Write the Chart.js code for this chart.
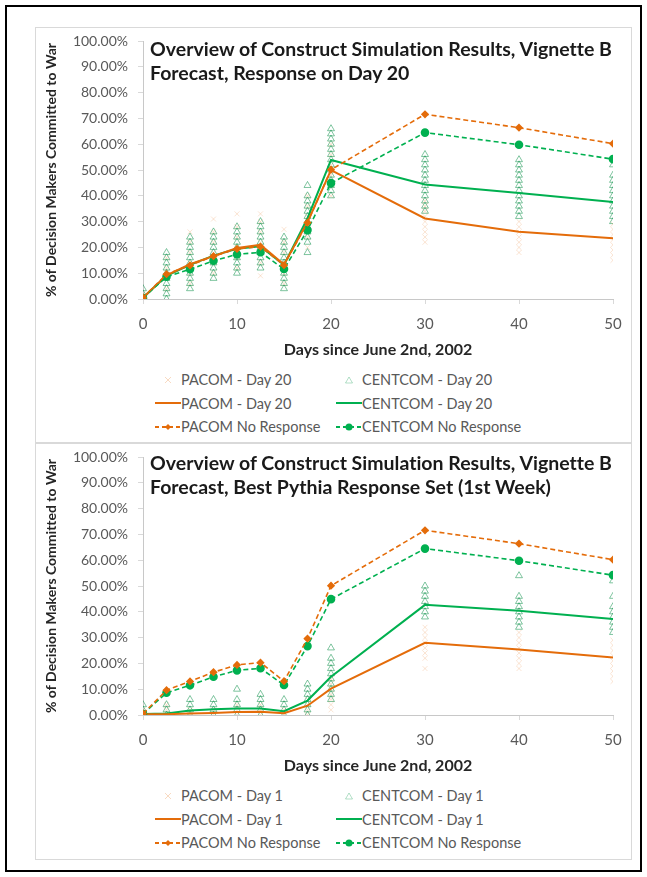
<!DOCTYPE html>
<html>
<head>
<meta charset="utf-8">
<title>Construct Simulation Results, Vignette B</title>
<script src="https://cdn.jsdelivr.net/npm/chart.js@4.4.1/dist/chart.umd.min.js"></script>
<style>
  body { margin: 0; background: #fff; font-family: Lato, 'Open Sans', sans-serif; font-variant-ligatures: none; }
  #frame { position: absolute; left: 5px; top: 5px; width: 637px; height: 867px; border: 2px solid #000; box-sizing: border-box; }
  .panel { position: absolute; left: 35px; width: 597px; border: 1px solid #d9d9d9; box-sizing: border-box; background: #fff; }
  .panel canvas { position: absolute; left: 0; top: 0; }
  .title { position: absolute; left: 114px; font-weight: bold; font-size: 19.5px; line-height: 24px; color: #1a1a1a; white-space: nowrap; }
  .legend { position: absolute; left: 119px; top: 340px; display: grid; grid-template-columns: 181px auto; grid-auto-rows: 23.5px; font-size: 14.5px; color: #595959; }
  .legend .item { display: flex; align-items: center; white-space: nowrap; }
  .legend svg { width: 26px; height: 12px; flex: none; }
</style>
</head>
<body>
<div id="frame"></div>

<div class="panel" style="top:27px; height:416px;">
  <canvas id="chart-day20" width="595" height="335"></canvas>
  <div class="title" style="top:9px;">Overview of Construct Simulation Results, Vignette B<br>Forecast, Response on Day 20</div>
  <div class="legend" id="legend-day20"></div>
</div>

<div class="panel" style="top:443px; height:417px;">
  <canvas id="chart-day1" width="595" height="335"></canvas>
  <div class="title" style="top:7px;">Overview of Construct Simulation Results, Vignette B<br>Forecast, Best Pythia Response Set (1st Week)</div>
  <div class="legend" id="legend-day1"></div>
</div>

<script>
// Days on the x axis (same for every series)
const days = [0, 2.5, 5, 7.5, 10, 12.5, 15, 17.5, 20, 30, 40, 50];
const xTicks = [0, 10, 20, 30, 40, 50];

// Baseline, no response (same in both panels), % committed to war
const pacomNoResponse   = [0.5, 9.6, 13.0, 16.6, 19.4, 20.3, 13.1, 29.6, 50.1, 71.6, 66.4, 60.2];
const centcomNoResponse = [0.4, 8.6, 11.5, 14.8, 17.3, 18.1, 11.6, 26.7, 44.9, 64.5, 59.8, 54.2];

// Panel 1: response on day 20, averages
const pacomDay20   = [0.5, 9.2, 13.5, 16.6, 19.8, 21.0, 13.4, 29.8, 50.0, 31.2, 26.1, 23.5];
const centcomDay20 = [0.5, 9.0, 13.2, 16.8, 19.5, 20.4, 13.2, 31.3, 53.9, 44.4, 41.1, 37.6];

// Panel 1: individual runs per day
const pacomDay20Runs = [
  [0, 2], [4, 8, 12, 16], [6, 10, 14, 18, 22, 26], [10, 14, 18, 22, 26, 31],
  [12, 16, 20, 24, 28, 33], [9, 14, 18, 22, 26, 30, 33], [6, 10, 14, 18, 22, 27], [20, 24, 28, 32, 36, 40],
  [40, 44, 48, 52, 56, 60], [22, 24, 26, 28, 30, 32, 34, 36, 38], [18, 20, 22, 24, 26, 28, 30], [15, 17, 19, 21, 23, 25, 27, 29]
];
const centcomDay20Runs = [
  [0, 2, 4], [0, 2, 4, 6, 8, 10, 12, 14, 16, 18], [4, 6, 8, 10, 12, 14, 16, 18, 20, 22, 24], [8, 10, 12, 14, 16, 18, 20, 22, 24, 26],
  [10, 12, 14, 16, 18, 20, 22, 24, 26, 28], [12, 14, 16, 18, 20, 22, 24, 26, 28, 30], [4, 6, 8, 10, 12, 14, 16, 18, 20, 22, 24], [18, 22, 24, 26, 28, 30, 32, 34, 36, 38, 40, 44],
  [40, 42, 44, 46, 48, 50, 52, 54, 56, 58, 60, 62, 64, 66], [34, 36, 38, 40, 42, 44, 46, 48, 50, 52, 54, 56], [32, 34, 36, 38, 40, 42, 44, 46, 48, 50, 52, 54], [30, 32, 34, 36, 38, 40, 42, 44, 46, 48, 52]
];

// Panel 2: best Pythia response set (1st week), averages
const pacomDay1   = [0.3, 0.3, 0.6, 0.8, 1.2, 1.3, 0.7, 3.6, 10.2, 28.0, 25.4, 22.3];
const centcomDay1 = [0.4, 0.6, 1.7, 2.2, 2.5, 2.5, 1.5, 5.6, 14.8, 42.7, 40.4, 37.2];

// Panel 2: individual runs per day
const pacomDay1Runs = [
  [0, 2], [0, 2, 4], [0, 2], [0, 2], [0, 2, 4], [0, 2, 4], [0, 2], [0, 2, 4, 6],
  [2, 4, 6, 8, 10, 12, 14], [18, 22, 24, 26, 28, 30, 32, 34], [18, 20, 22, 24, 26, 28, 30, 32], [13, 15, 17, 19, 21, 23, 25, 27, 29]
];
const centcomDay1Runs = [
  [0, 2, 4], [0, 2, 4], [0, 2, 4, 6], [0, 2, 4, 6], [0, 2, 4, 6, 10], [0, 2, 4, 6, 8], [0, 2, 4, 6], [0, 2, 4, 6, 8, 10, 12],
  [6, 8, 10, 12, 14, 16, 18, 20, 22, 26], [38, 40, 42, 44, 46, 48, 50], [34, 36, 38, 40, 42, 44, 46, 54], [32, 34, 36, 38, 40, 42, 46, 52]
];

const ORANGE = '#E46C0A';
const GREEN = '#00B050';

Chart.defaults.font.family = "Lato, 'Open Sans', sans-serif";

function linePoints(values) {
  return days.map((d, i) => ({ x: d, y: values[i] }));
}

function runPoints(runs) {
  const pts = [];
  runs.forEach((vals, i) => vals.forEach(v => pts.push({ x: days[i], y: v })));
  return pts;
}

function buildDatasets(tag, pacomRuns, centcomRuns, pacomAvg, centcomAvg) {
  return [
    { label: 'PACOM - ' + tag, data: runPoints(pacomRuns), showLine: false, order: 2,
      pointStyle: 'crossRot', pointRadius: 3.5, borderWidth: 1,
      borderColor: 'rgba(228,108,10,0.18)', backgroundColor: 'rgba(228,108,10,0.18)' },
    { label: 'CENTCOM - ' + tag, data: runPoints(centcomRuns), showLine: false, order: 2,
      pointStyle: 'triangle', pointRadius: 4, borderWidth: 1,
      pointBorderColor: 'rgba(0,140,65,0.5)', pointBackgroundColor: 'rgba(0,0,0,0)' },
    { label: 'PACOM - ' + tag, data: linePoints(pacomAvg), order: 1,
      borderColor: ORANGE, borderWidth: 2, pointRadius: 0, tension: 0 },
    { label: 'CENTCOM - ' + tag, data: linePoints(centcomAvg), order: 1,
      borderColor: GREEN, borderWidth: 2, pointRadius: 0, tension: 0 },
    { label: 'PACOM No Response', data: linePoints(pacomNoResponse), order: 0,
      borderColor: ORANGE, borderWidth: 1.6, borderDash: [5, 3], tension: 0,
      pointStyle: 'rectRot', pointRadius: 3, pointBackgroundColor: ORANGE, pointBorderColor: ORANGE },
    { label: 'CENTCOM No Response', data: linePoints(centcomNoResponse), order: 0,
      borderColor: GREEN, borderWidth: 1.6, borderDash: [5, 3], tension: 0,
      pointStyle: 'circle', pointRadius: 3.5, pointBackgroundColor: GREEN, pointBorderColor: GREEN }
  ];
}

function legendIcon(ds) {
  const c = ds.borderColor;
  if (ds.showLine === false && ds.pointStyle === 'crossRot') {
    return '<svg viewBox="0 0 26 12"><path d="M10 3 L16 9 M16 3 L10 9" stroke="rgba(228,108,10,0.25)" stroke-width="1"/></svg>';
  }
  if (ds.showLine === false) {
    return '<svg viewBox="0 0 26 12"><path d="M13 3 L16.5 9 L9.5 9 Z" fill="none" stroke="rgba(0,150,70,0.3)" stroke-width="1"/></svg>';
  }
  let marker = '';
  if (ds.pointStyle === 'rectRot') marker = '<path d="M13 3 L16 6 L13 9 L10 6 Z" fill="' + c + '"/>';
  if (ds.pointStyle === 'circle') marker = '<circle cx="13" cy="6" r="3.5" fill="' + c + '"/>';
  const dash = ds.borderDash ? ' stroke-dasharray="4 3"' : '';
  return '<svg viewBox="0 0 26 12"><line x1="0" y1="6" x2="26" y2="6" stroke="' + c + '" stroke-width="2"' + dash + '/>' + marker + '</svg>';
}

function makeChart(canvasId, legendId, datasets) {
  const chart = new Chart(document.getElementById(canvasId), {
    type: 'line',
    data: { datasets: datasets },
    options: {
      responsive: false,
      animation: false,
      layout: { padding: { top: 13, right: 18, left: 0, bottom: 0 } },
      plugins: { legend: { display: false }, tooltip: { enabled: false } },
      scales: {
        x: {
          type: 'linear', min: 0, max: 50,
          afterBuildTicks: s => { s.ticks = xTicks.map(v => ({ value: v })); },
          afterFit: s => { s.height = 64; s.paddingLeft = 0; s.paddingRight = 0; },
          ticks: { color: '#595959', font: { size: 15 }, padding: 11 },
          grid: { drawOnChartArea: false, tickLength: 5, color: '#d9d9d9' },
          border: { color: '#c8c8c8' },
          title: { display: true, text: 'Days since June 2nd, 2002', color: '#262626',
                   font: { size: 16, weight: 'bold' }, padding: { top: 4, bottom: 4 } }
        },
        y: {
          min: 0, max: 100,
          afterFit: s => { s.width = 107; s.paddingTop = 0; s.paddingBottom = 0; },
          ticks: { stepSize: 10, color: '#595959', font: { size: 14 }, padding: 10,
                   callback: v => v.toFixed(2) + '%' },
          grid: { drawOnChartArea: false, tickLength: 5, color: '#d9d9d9' },
          border: { color: '#c8c8c8' },
          title: { display: true, text: '% of Decision Makers Committed to War', color: '#262626',
                   font: { size: 14, weight: 'bold' }, padding: { top: 7, bottom: 4 } }
        }
      }
    }
  });

  // HTML legend, two columns like the original
  const legend = document.getElementById(legendId);
  legend.innerHTML = chart.data.datasets.map(ds =>
    '<div class="item">' + legendIcon(ds) + '<span>' + ds.label + '</span></div>'
  ).join('');
  return chart;
}

makeChart('chart-day20', 'legend-day20',
  buildDatasets('Day 20', pacomDay20Runs, centcomDay20Runs, pacomDay20, centcomDay20));
makeChart('chart-day1', 'legend-day1',
  buildDatasets('Day 1', pacomDay1Runs, centcomDay1Runs, pacomDay1, centcomDay1));
</script>
</body>
</html>
